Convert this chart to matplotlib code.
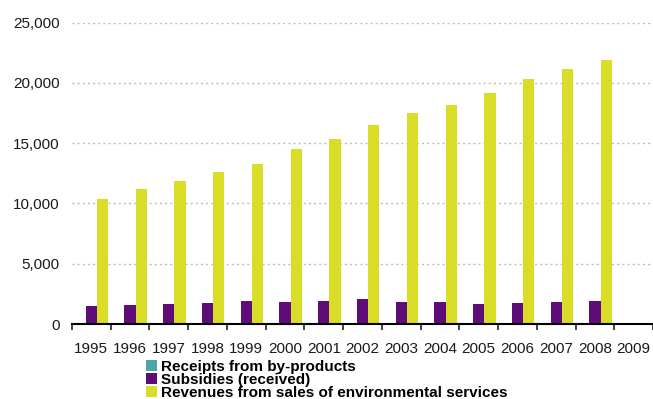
import numpy as np
import matplotlib
matplotlib.use('Agg')
import matplotlib.pyplot as plt

plt.rcParams['font.family'] = ['Liberation Sans', 'DejaVu Sans']

years = ['1995', '1996', '1997', '1998', '1999', '2000', '2001', '2002',
         '2003', '2004', '2005', '2006', '2007', '2008', '2009']
receipts = [0, 0, 0, 0, 0, 0, 0, 0, 0, 0, 0, 0, 0, 0, 0]
subsidies = [1490, 1570, 1660, 1740, 1900, 1820, 1900, 2070,
             1820, 1820, 1660, 1740, 1820, 1900, 0]
revenues = [10350, 11180, 11840, 12590, 13250, 14490, 15320, 16480,
            17470, 18130, 19130, 20290, 21110, 21860, 0]
labels = ['Receipts from by-products', 'Subsidies (received)',
          'Revenues from sales of environmental services']
colors = ['#4aa6a8', '#5e0d78', '#d9dd27']

fig = plt.figure(figsize=(6.53, 3.99), dpi=100)
ax = fig.add_axes([72/653, 75/399, 581/653, (324-22.5)/399])

x = np.arange(len(years))
w = 0.29
bars = []
for i, (vals, c) in enumerate(zip([receipts, subsidies, revenues], colors)):
    b = ax.bar(x + (i - 1) * w, vals, w, color=c, label=labels[i], zorder=3)
    bars.append(b)

ax.set_ylim(0, 25000)
ax.set_xlim(-0.5, 14.45)
yt = [0, 5000, 10000, 15000, 20000, 25000]
ax.set_yticks(yt)
ax.set_yticklabels(['{:,}'.format(v) for v in yt])
ax.tick_params(axis='y', length=0, pad=9, labelsize=11, colors='#1a1a1a')
for v in yt[1:]:
    ax.axhline(v, color='#bdbdbd', lw=1, dashes=(1.5, 2.2), zorder=1)

ax.set_xticks(np.arange(-0.5, 15, 1))
ax.set_xticklabels([])
ax.tick_params(axis='x', which='major', length=4, width=1.2, color='#222222')
ax.set_xticks(x, minor=True)
ax.set_xticklabels(years, minor=True)
ax.tick_params(axis='x', which='minor', length=0, pad=13, labelsize=11, labelcolor='#1a1a1a')

for s in ['top', 'right', 'left']:
    ax.spines[s].set_visible(False)
ax.spines['bottom'].set_linewidth(1.5)
ax.spines['bottom'].set_zorder(4)

fig.legend(handles=bars, labels=labels, loc='upper left',
           bbox_to_anchor=(146/653, 1 - 360/399), frameon=False,
           prop={'size': 11, 'weight': 'bold'}, handlelength=0.7, handleheight=0.7,
           handletextpad=0.3, labelspacing=-0.08, borderpad=0, borderaxespad=0)

fig.savefig('out.png', dpi=100)
